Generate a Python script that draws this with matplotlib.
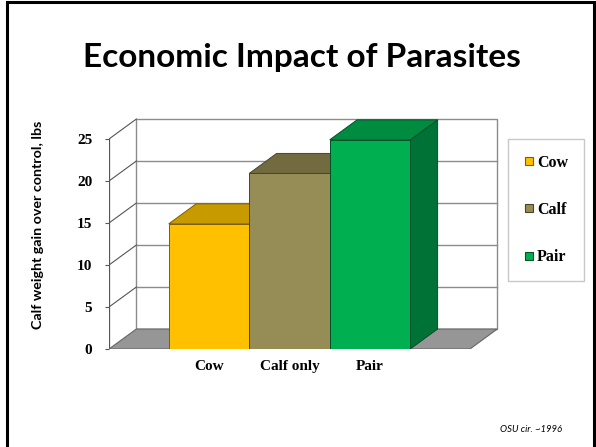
import numpy as np
import matplotlib
matplotlib.use('Agg')
import matplotlib.pyplot as plt
from matplotlib.patches import Polygon, Rectangle
from matplotlib.lines import Line2D

# chart data
categories = ['Cow', 'Calf only', 'Pair']
legend_labels = ['Cow', 'Calf', 'Pair']
gains = [14.9, 20.9, 24.9]
y_ticks = [0, 5, 10, 15, 20, 25]
y_max = 25

front_colors = ['#FFC000', '#968C55', '#00B050']
top_colors = ['#C79A00', '#736B40', '#008C40']
side_colors = ['#A07C00', '#5C5533', '#007235']
edge_colors = ['#7A5E00', '#4A4428', '#00502A']

title = 'Economic Impact of Parasites'
ylabel = 'Calf weight gain over control, lbs'
source = 'OSU cir. ~1996'

# 3d look
dx, dy = 0.34, 2.38
x0, x1 = -1.242, 3.242
wall_col = '#8C8C8C'
floor_col = '#969696'

serif = 'Liberation Serif'
sans = 'Lato'

W, H = 596, 447
fig = plt.figure(figsize=(W / 100, H / 100), dpi=100)
fig.patch.set_facecolor('white')

# slide frame
fig.patches.append(Rectangle((7 / W, -0.05), (594 - 7) / W, (445 - 0) / H + 0.05,
                             transform=fig.transFigure, fill=False,
                             edgecolor='black', linewidth=2.2))

ax = fig.add_axes([109 / W, (H - 349) / H, 391 / W, 234 / H])
ax.set_xlim(x0, x0 + 391 / 80.5)
ax.set_ylim(0, 234 / 8.4)
for s in ax.spines.values():
    s.set_visible(False)
ax.patch.set_alpha(0)

# back wall
ax.add_patch(Rectangle((x0 + dx, dy), x1 - x0, y_max, facecolor='white',
                       edgecolor=wall_col, linewidth=1.0, zorder=1))
for t in y_ticks[1:-1]:
    ax.plot([x0 + dx, x1 + dx], [t + dy, t + dy], color=wall_col, lw=1.0, zorder=1.5)

# side wall diagonals and front axis
for t in y_ticks[1:]:
    ax.plot([x0, x0 + dx], [t, t + dy], color='#555555', lw=0.8, zorder=1.5)
ax.plot([x0, x0], [0, y_max], color='#555555', lw=0.9, zorder=1.5)

# floor
ax.add_patch(Polygon([(x0, 0), (x0 + dx, dy), (x1 + dx, dy), (x1, 0)],
                     closed=True, facecolor=floor_col, edgecolor='#666666',
                     linewidth=0.8, zorder=2))

# bars
xs = np.arange(len(categories))
for i, v in enumerate(gains):
    z = 3 + i
    l, r = xs[i] - 0.5, xs[i] + 0.5
    ax.add_patch(Polygon([(r, 0), (r + dx, dy), (r + dx, v + dy), (r, v)], closed=True,
                         facecolor=side_colors[i], edgecolor=edge_colors[i], lw=0.7, zorder=z))
    ax.add_patch(Polygon([(l, v), (l + dx, v + dy), (r + dx, v + dy), (r, v)], closed=True,
                         facecolor=top_colors[i], edgecolor=edge_colors[i], lw=0.7, zorder=z))
    ax.bar(xs[i], v, width=1.0, color=front_colors[i], edgecolor=edge_colors[i],
           linewidth=0.7, zorder=z + 0.5)

ax.set_yticks(y_ticks)
ax.set_yticklabels([str(t) for t in y_ticks], fontfamily=serif, fontweight='bold', fontsize=11)
ax.tick_params(axis='y', length=3, width=0.8, color='#555555', pad=9)
ax.set_xticks(xs)
ax.set_xticklabels(categories, fontfamily=serif, fontweight='bold', fontsize=11)
ax.tick_params(axis='x', length=0, pad=8)

# legend
handles = [Line2D([], [], linestyle='none', marker='s', markersize=5.5,
                  markerfacecolor=front_colors[i], markeredgecolor=edge_colors[i],
                  markeredgewidth=0.8) for i in range(len(legend_labels))]
leg = fig.legend(handles, legend_labels, loc='center',
                 bbox_to_anchor=(546 / W, 1 - 210 / H), frameon=True, fancybox=False,
                 prop={'family': serif, 'weight': 'bold', 'size': 11.5},
                 labelspacing=1.95, borderpad=1.0, handlelength=0.6,
                 handletextpad=0.2, borderaxespad=0)
leg.get_frame().set_edgecolor('#BBBBBB')
leg.get_frame().set_linewidth(1.0)

fig.text(302 / W, 1 - 58 / H, title, ha='center', va='center',
         fontfamily=sans, fontweight='bold', fontsize=24)
fig.text(38 / W, 1 - 225 / H, ylabel, ha='center', va='center', rotation=90,
         fontfamily=sans, fontweight='bold', fontsize=10.3)
fig.text(531 / W, 1 - 430 / H, source, ha='center', va='center',
         fontfamily=sans, fontstyle='italic', fontsize=6.8)

fig.savefig('out.png', dpi=100)
